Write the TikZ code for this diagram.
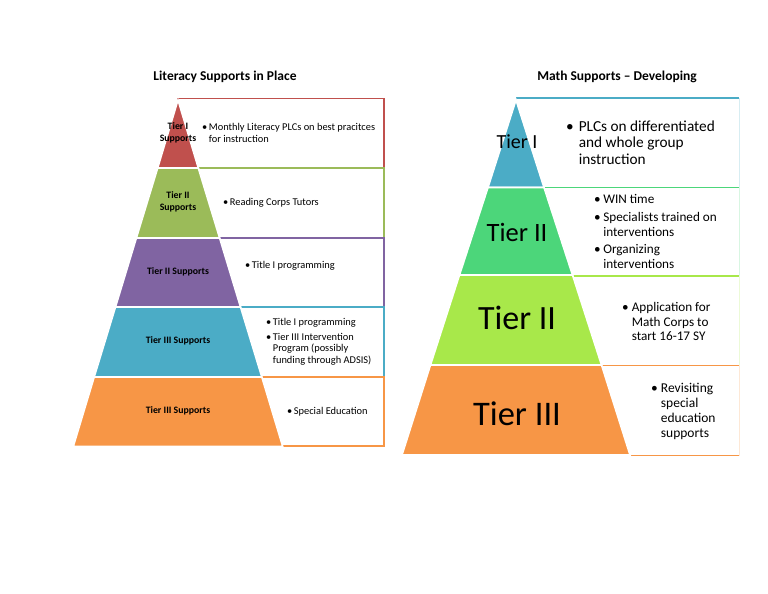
\documentclass[tikz,border=0pt]{standalone}
\usepackage{fontspec}
\setmainfont{Carlito}
\definecolor{cred}{HTML}{C0504D}
\definecolor{cgreen}{HTML}{9BBB59}
\definecolor{cpurple}{HTML}{8064A2}
\definecolor{ccyan}{HTML}{4BACC6}
\definecolor{corange}{HTML}{F79646}
\definecolor{mgreen}{HTML}{4CD67A}
\definecolor{mlime}{HTML}{A8E84A}
\newcommand{\fs}[2]{\fontsize{#1}{#2}\selectfont}
\begin{document}
\begin{tikzpicture}[x=1pt,y=-1pt,
  layer/.style={draw=white,line width=1.6pt,line join=miter},
  lbox/.style={draw=#1,line width=1.1pt,fill=white},
  rbox/.style={draw=#1!22,line width=0.8pt,fill=white},
  rtop/.style={draw=#1,line width=1.4pt},
  ltxt/.style={anchor=base west,inner sep=0pt,font=\fs{10.4}{11.5}},
  llab/.style={align=center,inner sep=0pt,font=\bfseries\fs{9.8}{12}},
  rlab/.style={inner sep=0pt},
  title/.style={inner sep=0pt,font=\bfseries\fs{13.5}{15}}]
\useasboundingbox (0,0) rectangle (768,594);
\fill[white] (0,0) rectangle (768,594);

% ---------- titles
\node[title] (t1) at (225,77) {Literacy Supports in Place};
\node[title] (t2) at (617,77) {Math Supports -- Developing};

% ---------- left boxes
\draw[lbox=cred]    (178,98.5) rectangle (384,168);
\draw[lbox=cgreen]  (178,168) rectangle (384,238);
\draw[lbox=cpurple] (178,238) rectangle (384,307);
\draw[lbox=ccyan]   (178,307) rectangle (384,377);
\draw[lbox=corange] (178,377) rectangle (384,446);

% ---------- left pyramid
\filldraw[layer,fill=cred]    (178,100) -- (198.3,168) -- (157.7,168) -- cycle;
\filldraw[layer,fill=cgreen]  (157.7,168) -- (198.3,168) -- (219.6,238) -- (136.4,238) -- cycle;
\filldraw[layer,fill=cpurple] (136.4,238) -- (219.6,238) -- (240.5,307) -- (115.5,307) -- cycle;
\filldraw[layer,fill=ccyan]   (115.5,307) -- (240.5,307) -- (261.8,377) -- (94.2,377) -- cycle;
\filldraw[layer,fill=corange] (94.2,377) -- (261.8,377) -- (282.7,446.5) -- (73.3,446.5) -- cycle;

\node[llab] (l1) at (178,133) {Tier I\\Supports};
\node[llab] (l2) at (178,202) {Tier II\\Supports};
\node[llab] (l3) at (178,272) {Tier II Supports};
\node[llab] (l4) at (178,341) {Tier III Supports};
\node[llab] (l5) at (178,411) {Tier III Supports};

\node[ltxt] (b1) at (202,130.5) {\begin{tabular}[t]{@{}l@{\hspace{1.5pt}}l@{}}\textbullet&Monthly Literacy PLCs on best pracitces\\ &for instruction\end{tabular}};
\node[ltxt] (b2) at (223,205.5) {\begin{tabular}[t]{@{}l@{\hspace{1.5pt}}l@{}}\textbullet&Reading Corps Tutors\end{tabular}};
\node[ltxt] (b3) at (245,268.5) {\begin{tabular}[t]{@{}l@{\hspace{1.5pt}}l@{}}\textbullet&Title I programming\end{tabular}};
\node[ltxt] (b4) at (266,325.5) {\begin{tabular}[t]{@{}l@{\hspace{1.5pt}}l@{}}\textbullet&Title I programming\\[3pt]\textbullet&Tier III Intervention\\ &Program (possibly\\ &funding through ADSIS)\end{tabular}};
\node[ltxt] (b5) at (287,414.5) {\begin{tabular}[t]{@{}l@{\hspace{1.5pt}}l@{}}\textbullet&Special Education\end{tabular}};

% ---------- right boxes
\draw[rbox=ccyan]   (516,98) rectangle (739,187.5);
\draw[rtop=ccyan]   (516,98) -- (739,98);
\draw[rbox=mgreen]  (516,187.5) rectangle (739,276);
\draw[rtop=mgreen]  (516,187.5) -- (739,187.5);
\draw[rbox=mlime]   (516,276) rectangle (739,365.5);
\draw[rtop=mlime]   (516,276) -- (739,276);
\draw[rbox=corange] (516,365.5) rectangle (739,455.5);
\draw[rtop=corange] (516,365.5) -- (739,365.5);
\draw[rtop=corange] (516,455.5) -- (739,455.5);

% ---------- right pyramid
\filldraw[layer,fill=ccyan]   (516,100) -- (544,187.5) -- (488,187.5) -- cycle;
\filldraw[layer,fill=mgreen]  (488,187.5) -- (544,187.5) -- (572.5,275) -- (459.5,275) -- cycle;
\filldraw[layer,fill=mlime]   (459.5,275) -- (572.5,275) -- (601.5,365) -- (430.5,365) -- cycle;
\filldraw[layer,fill=corange] (430.5,365) -- (601.5,365) -- (630,455) -- (402,455) -- cycle;

\node[rlab,font=\fs{20}{24}] (r1) at (517,142) {Tier I};
\node[rlab,font=\fs{26.5}{30}] (r2) at (517,232) {Tier II};
\node[rlab,font=\fs{34}{40}] (r3) at (517,318) {Tier II};
\node[rlab,font=\fs{34.5}{40}] (r4) at (517,414) {Tier III};

\node[ltxt,font=\fs{15.3}{16.5}] (m1) at (566,131) {\begin{tabular}[t]{@{}l@{\hspace{5pt}}l@{}}\textbullet&PLCs on differentiated\\ &and whole group\\ &instruction\end{tabular}};
\node[ltxt,font=\fs{13.2}{15}] (m2) at (594,203.5) {\begin{tabular}[t]{@{}l@{\hspace{2.5pt}}l@{}}\textbullet&WIN time\\[2.5pt]\textbullet&Specialists trained on\\ &interventions\\[2.5pt]\textbullet&Organizing\\ &interventions\end{tabular}};
\node[ltxt,font=\fs{13.2}{14.5}] (m3) at (622,311.5) {\begin{tabular}[t]{@{}l@{\hspace{3pt}}l@{}}\textbullet&Application for\\ &Math Corps to\\ &start 16-17 SY\end{tabular}};
\node[ltxt,font=\fs{13.5}{15}] (m4) at (651,392.5) {\begin{tabular}[t]{@{}l@{\hspace{3pt}}l@{}}\textbullet&Revisiting\\ &special\\ &education\\ &supports\end{tabular}};
\end{tikzpicture}
\end{document}
